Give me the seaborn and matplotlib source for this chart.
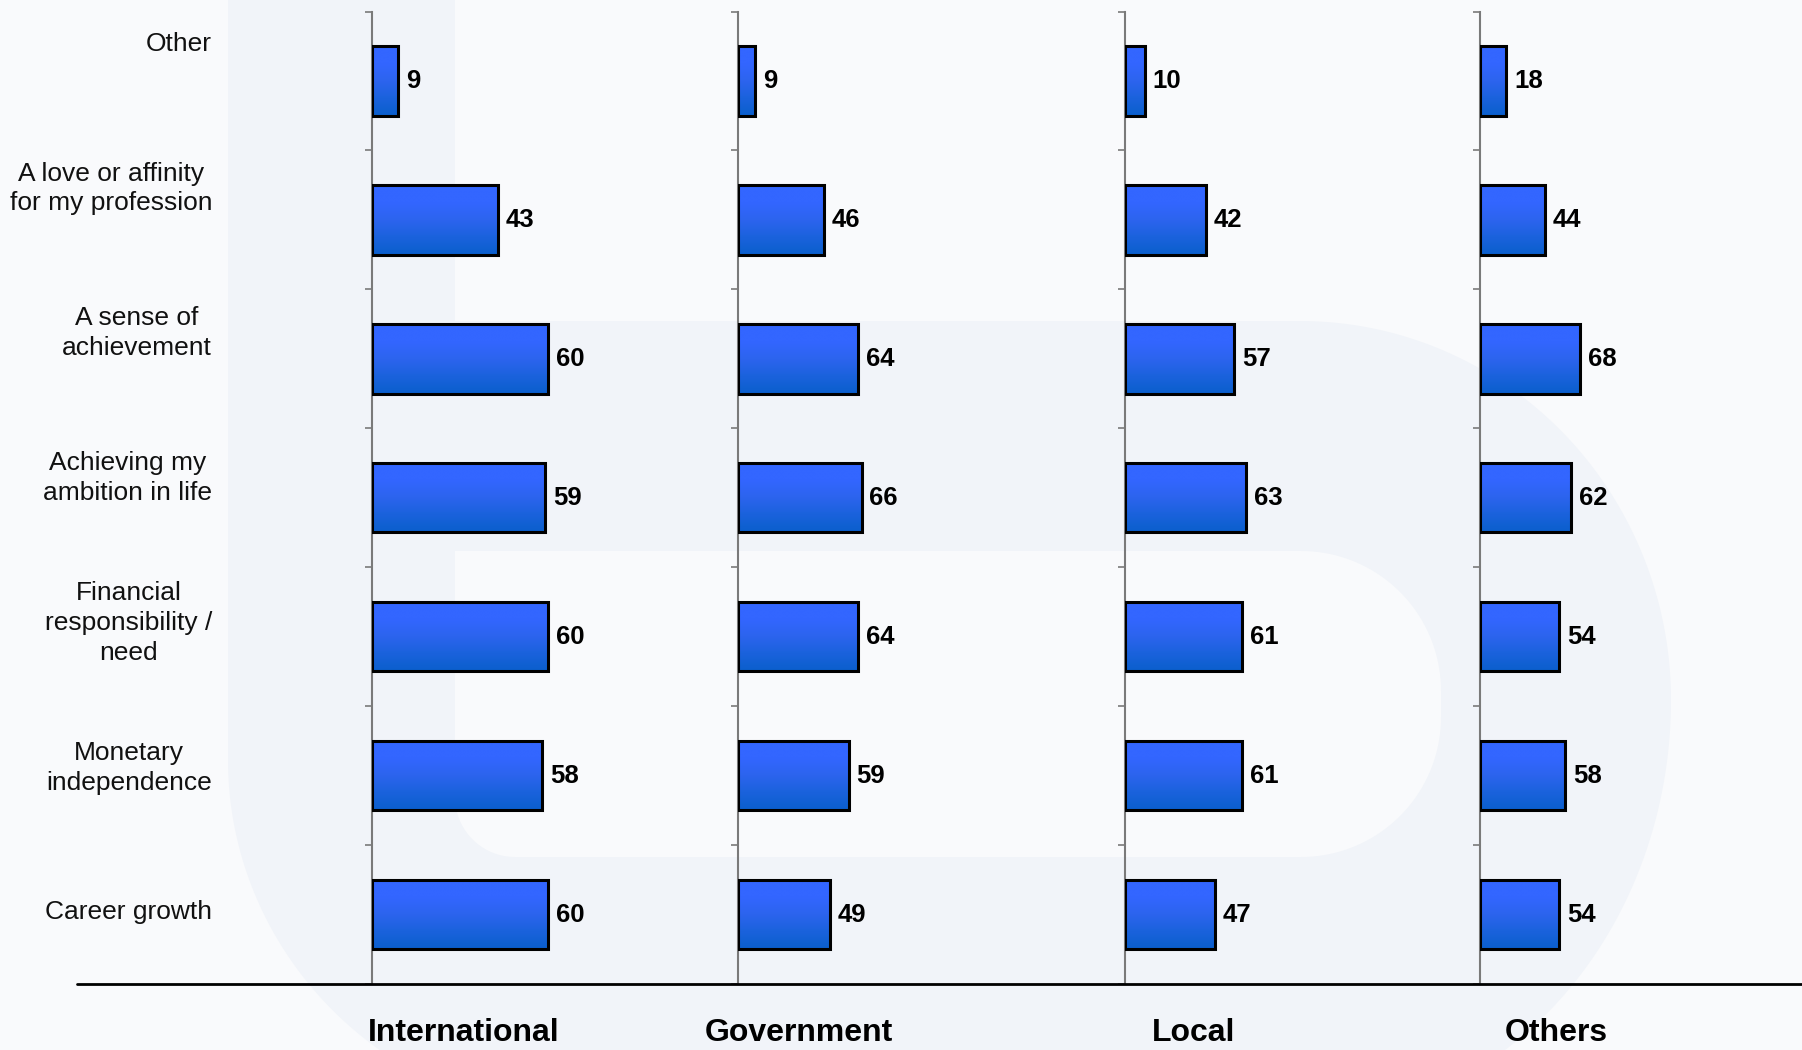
import numpy as np
import pandas as pd
import matplotlib
matplotlib.use("Agg")
import matplotlib.pyplot as plt
import seaborn as sns
from matplotlib.path import Path
from matplotlib.patches import PathPatch
from matplotlib.lines import Line2D
from matplotlib.colors import LinearSegmentedColormap

# ---- data -------------------------------------------------------------
reasons = [
    "Other",
    "A love or affinity\nfor my profession",
    "A sense of\nachievement",
    "Achieving my\nambition in life",
    "Financial\nresponsibility /\nneed",
    "Monetary\nindependence",
    "Career growth",
]
sectors = ["International", "Government", "Local", "Others"]
international = [9, 43, 60, 59, 60, 58, 60]
government = [9, 46, 64, 66, 64, 59, 49]
local = [10, 42, 57, 63, 61, 61, 47]
others = [18, 44, 68, 62, 54, 58, 54]
series = [international, government, local, others]

# each panel keeps its own value scale
scale_max = [120, 200, 185, 215]

# ---- layout (pixels, origin top-left) ---------------------------------
W, H, DPI = 1802, 1050, 100
panel_left = [371.6, 738.3, 1125.4, 1479.9]
panel_right = [725.0, 1112.7, 1479.3, 1796.6]
plot_top, plot_bottom = 11.5, 984.0
sector_label_x = [464, 798.6, 1193.9, 1556]

BG = "#F9FAFC"
MARK = "#F1F4F9"

sns.set_theme(style="white")
plt.rcParams["font.family"] = ["Liberation Sans", "DejaVu Sans"]

fig = plt.figure(figsize=(W / DPI, H / DPI), dpi=DPI)
fig.patch.set_facecolor(BG)


def to_fig(pts):
    pts = np.asarray(pts, dtype=float)
    return np.column_stack([pts[:, 0] / W, 1 - pts[:, 1] / H])


def arc(cx, cy, a, b, t0, t1, n=80):
    t = np.linspace(t0, t1, n)
    return np.column_stack([cx + a * np.cos(t), cy + b * np.sin(t)])


# ---- faint logo watermark in the background ----------------------------
outer = np.vstack([
    [[1300, 321]],
    arc(1300, 700, 371, 379, -np.pi / 2, 0),
    arc(1300, 700, 371, 420, 0, np.pi / 2),
    arc(600, 760, 372, 360, np.pi / 2, np.pi),
    [[228, -20], [455, -20], [455, 321], [1300, 321]],
])
counter = np.vstack([
    [[455, 551]],
    arc(1301, 691, 140, 140, -np.pi / 2, 0, 40),
    arc(1301, 717, 140, 140, 0, np.pi / 2, 40),
    arc(515, 797, 60, 60, np.pi / 2, np.pi, 20),
    [[455, 551]],
])
for pts, col, z in [(outer, MARK, -5), (counter, BG, -4)]:
    fp = to_fig(pts)
    fig.add_artist(PathPatch(Path(fp, closed=True), facecolor=col,
                             edgecolor="none", transform=fig.transFigure,
                             zorder=z))

# ---- bar panels ---------------------------------------------------------
grad_cmap = LinearSegmentedColormap.from_list(
    "bar_fill", ["#3366FF", "#3366FF", "#2C64EE", "#1A62DC", "#0A5FCC"])
grad = np.linspace(0, 1, 256).reshape(-1, 1)

for i, (name, vals) in enumerate(zip(sectors, series)):
    l, r = panel_left[i], panel_right[i]
    ax = fig.add_axes([l / W, 1 - plot_bottom / H, (r - l) / W,
                       (plot_bottom - plot_top) / H])
    ax.set_facecolor("none")
    df = pd.DataFrame({"reason": reasons, "value": vals})
    sns.barplot(data=df, x="value", y="reason", orient="h", color="#2A63EC",
                width=0.5, edgecolor="black", linewidth=2.2, ax=ax, zorder=3)

    # vertical gradient fill inside each bar
    for p in ax.patches:
        x0, y0 = p.get_x(), p.get_y()
        w, h = p.get_width(), p.get_height()
        im = ax.imshow(grad, cmap=grad_cmap, aspect="auto", origin="upper",
                       extent=(x0, x0 + w, y0 + h, y0), zorder=2.5,
                       interpolation="bilinear")
        im.set_clip_path(p)
        p.set_facecolor("none")

    ax.bar_label(ax.containers[0], fmt="%g", padding=5.5, fontsize=18.5,
                 fontweight="bold", color="black")

    ax.set_xlim(0, scale_max[i])
    ax.set_ylim(len(reasons) - 0.5, -0.5)
    ax.set_xlabel("")
    ax.set_ylabel("")
    ax.set_xticks([])
    ax.set_yticks(np.arange(-0.5, len(reasons), 1.0))
    ax.set_yticklabels([])
    ax.tick_params(axis="y", left=True, direction="out", length=5, width=1.2,
                   color="#7A7A7A")
    for s in ["top", "right", "bottom"]:
        ax.spines[s].set_visible(False)
    ax.spines["left"].set_color("#7A7A7A")
    ax.spines["left"].set_linewidth(1.5)

    fig.text(sector_label_x[i] / W, 1 - 1033 / H, name, ha="center",
             va="center", fontsize=23, fontweight="bold", color="black")

# ---- category labels on the left ----------------------------------------
label_step = (912.5 - 43.7) / (len(reasons) - 1)
for j, lab in enumerate(reasons):
    yc = 43.7 + j * label_step
    fig.text(212 / W, 1 - yc / H, lab, ha="right", va="center",
             multialignment="center", fontsize=19, linespacing=1.3,
             color="#111111")

# ---- baseline ---------------------------------------------------------
fig.add_artist(Line2D([77 / W, 1.0], [1 - plot_bottom / H] * 2, color="black",
                      lw=2, transform=fig.transFigure, zorder=4))

fig.savefig("out.png", dpi=DPI, facecolor=fig.get_facecolor())
